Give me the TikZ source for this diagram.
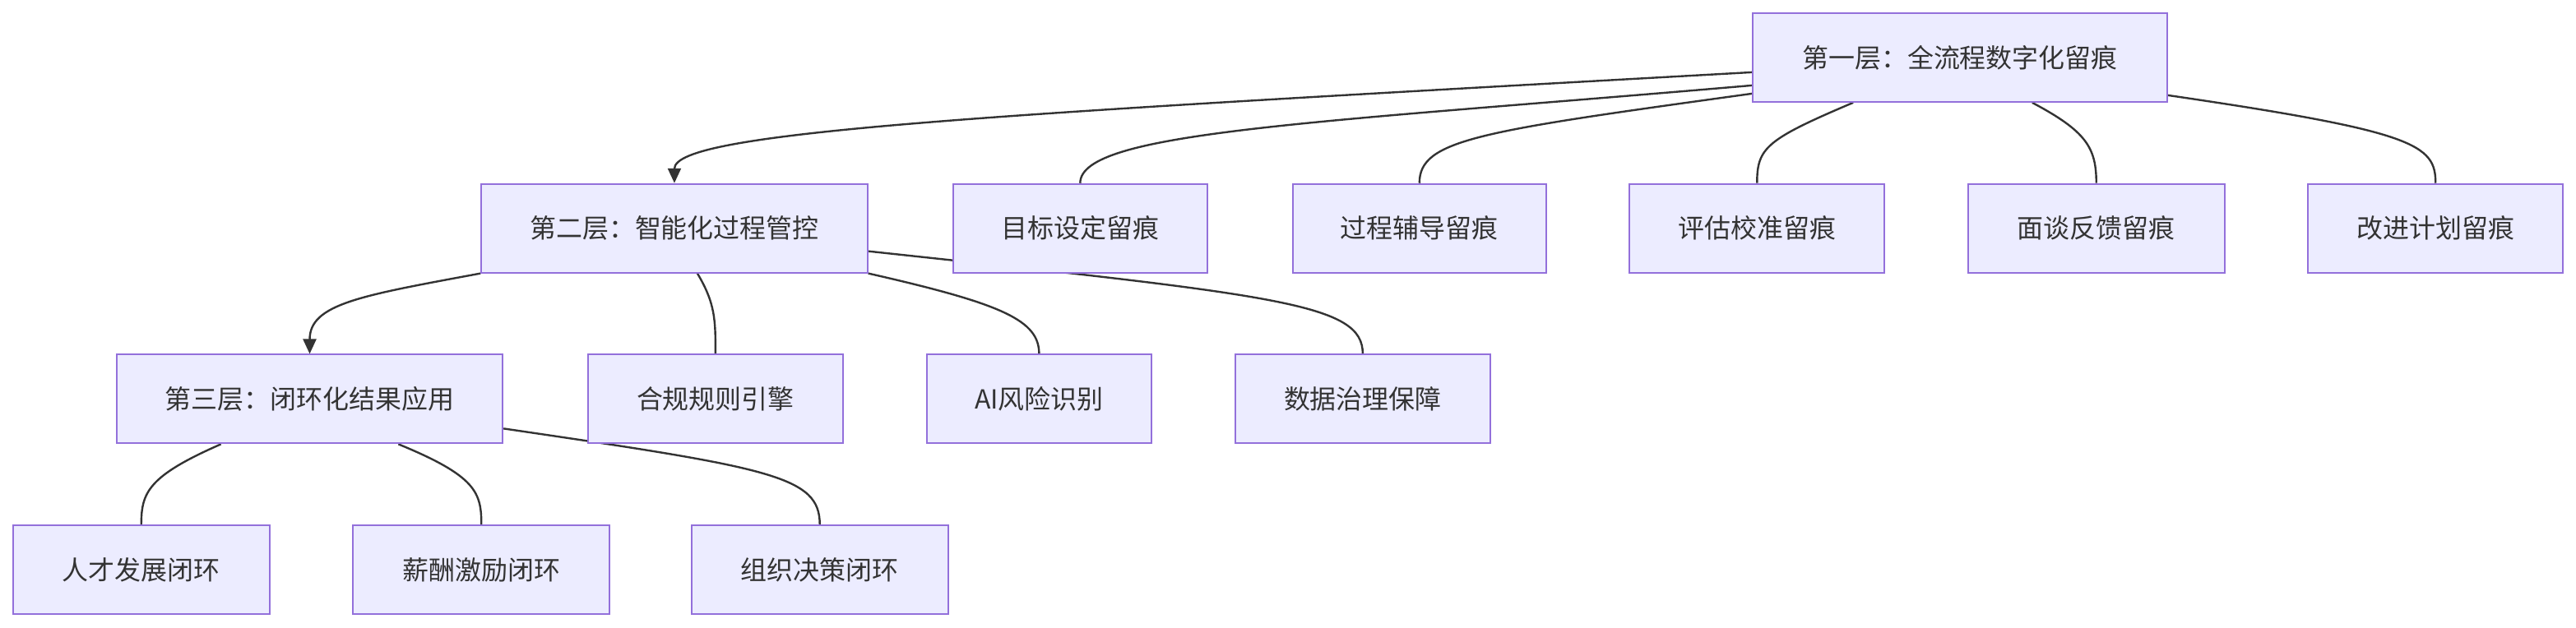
\documentclass[tikz,border=0pt]{standalone}
\usepackage{fontspec}
\setmainfont{Noto Sans CJK SC}
\usetikzlibrary{arrows.meta,backgrounds}

\tikzset{
  box/.style={draw={rgb,255:red,147; green,112; blue,219}, fill={rgb,255:red,236; green,236; blue,255},
    line width=0.5pt, minimum height=27pt, inner sep=0pt, font=\fontsize{8}{10}\selectfont,
    text={rgb,255:red,51; green,51; blue,51}},
  link/.style={draw={rgb,255:red,51; green,51; blue,51}, line width=0.6pt},
  arr/.style={link, -{Triangle[length=4.5pt,width=4pt]}}
}

\begin{document}
\begin{tikzpicture}[x=0.5pt, y=-0.5pt]
    \useasboundingbox (0,0) rectangle (1568,382);
    % nodes
    \node[box, minimum width=126pt] (L1) at (1193,35) {第一层：全流程数字化留痕};
    \node[box, minimum width=117.5pt] (L2) at (410.5,139) {第二层：智能化过程管控};
    \node[box, minimum width=77.5pt] (goal) at (657.5,139) {目标设定留痕};
    \node[box, minimum width=77pt] (coach) at (864,139) {过程辅导留痕};
    \node[box, minimum width=77.5pt] (eval) at (1069.5,139) {评估校准留痕};
    \node[box, minimum width=78pt] (talk) at (1276,139) {面谈反馈留痕};
    \node[box, minimum width=77.5pt] (plan) at (1482.5,139) {改进计划留痕};
    \node[box, minimum width=117.5pt] (L3) at (188.5,243) {第三层：闭环化结果应用};
    \node[box, minimum width=77.5pt] (rule) at (435.5,243) {合规规则引擎};
    \node[box, minimum width=68.5pt] (risk) at (632.5,243) {AI风险识别};
    \node[box, minimum width=77.5pt] (data) at (829.5,243) {数据治理保障};
    \node[box, minimum width=78pt] (talent) at (86,347) {人才发展闭环};
    \node[box, minimum width=78pt] (pay) at (293,347) {薪酬激励闭环};
    \node[box, minimum width=78pt] (org) at (499,347) {组织决策闭环};

    % links, behind the boxes
    \begin{scope}[on background layer]
    \draw[arr] ([yshift=-4.5pt]L1.west) .. controls (600,70) and (410.5,80) .. (L2.north);
    \draw[link] ([yshift=-8.5pt]L1.west) .. controls (800,75) and (657.5,80) .. (goal.north);
    \draw[link] ([yshift=-11pt]L1.west) .. controls (900,80) and (864,85) .. (coach.north);
    \draw[link] ([xshift=-32.5pt]L1.south) .. controls (1075,85) and (1069.5,90) .. (eval.north);
    \draw[link] ([xshift=22pt]L1.south) .. controls (1270,80) and (1276,90) .. (talk.north);
    \draw[link] ([yshift=-11.5pt]L1.east) .. controls (1470,80) and (1482.5,88) .. (plan.north);
    \draw[arr] (L2.south west) .. controls (220,180) and (188.5,185) .. (L3.north);
    \draw[link] ([xshift=7pt]L2.south) .. controls (435.5,185) and (435.5,195) .. (rule.north);
    \draw[link] (L2.south east) .. controls (610,185) and (632.5,195) .. (risk.north);
    \draw[link] ([yshift=-7pt]L2.east) .. controls (780,180) and (829.5,185) .. (data.north);
    \draw[link] ([xshift=-27pt]L3.south) .. controls (90,290) and (86,300) .. (talent.north);
    \draw[link] ([xshift=27pt]L3.south) .. controls (290,290) and (293,300) .. (pay.north);
    \draw[link] ([yshift=-9pt]L3.east) .. controls (470,285) and (499,290) .. (org.north);
    \end{scope}
\end{tikzpicture}
\end{document}
